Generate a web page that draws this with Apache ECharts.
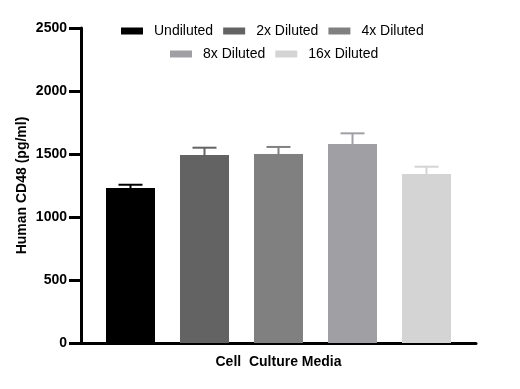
<!DOCTYPE html>
<html>
<head>
<meta charset="utf-8">
<script src="https://cdn.jsdelivr.net/npm/echarts@6/dist/echarts.min.js"></script>
<style>html,body{margin:0;padding:0;background:#fff}#c{width:520px;height:389px}</style>
</head>
<body>
<div id="c"></div>
<script>
var categories = ['Cell  Culture Media'];
var seriesNames = ['Undiluted', '2x Diluted', '4x Diluted', '8x Diluted', '16x Diluted'];
var means = [1230, 1492, 1500, 1579, 1341];
var errors = [26, 58, 56, 85, 58];
var colors = ['#000000', '#636363', '#808080', '#a0a0a4', '#d4d4d4'];
var yTicks = [0, 500, 1000, 1500, 2000, 2500];

var BAR_W = 49, BAR_GAP = 25;
var chart = echarts.init(document.getElementById('c'), null, {renderer: 'canvas'});
var series = [];
seriesNames.forEach(function (name, i) {
  series.push({
    name: name, type: 'bar', barWidth: BAR_W, barGap: (BAR_GAP / BAR_W * 100) + '%',
    itemStyle: {color: colors[i]}, data: [means[i]], z: 2
  });
});
seriesNames.forEach(function (name, i) {
  series.push({
    type: 'custom', z: 3, silent: true,
    data: [[0, means[i], errors[i]]],
    renderItem: function (params, api) {
      var top = api.coord([api.value(0), api.value(1) + api.value(2)]);
      var base = api.coord([api.value(0), api.value(1)]);
      var x = base[0] + (i - 2) * (BAR_W + BAR_GAP);
      var half = 12;
      var st = {stroke: colors[i], lineWidth: 2};
      return {type: 'group', children: [
        {type: 'line', shape: {x1: x, y1: base[1], x2: x, y2: top[1]}, style: st},
        {type: 'line', shape: {x1: x - half, y1: top[1], x2: x + half, y2: top[1]}, style: st}
      ]};
    }
  });
});

var legendText = {fontSize: 14, color: '#000', fontFamily: 'Liberation Sans', padding: [0, 0, 0, 6]};
chart.setOption({
  animation: false,
  backgroundColor: '#ffffff',
  textStyle: {fontFamily: 'Liberation Sans, Arial, sans-serif'},
  legend: [
    {data: seriesNames.slice(0, 3), left: 116, top: 19, itemWidth: 22, itemHeight: 7, itemGap: 10,
     textStyle: legendText, icon: 'rect'},
    {data: seriesNames.slice(3), left: 165, top: 42, itemWidth: 22, itemHeight: 7, itemGap: 10,
     textStyle: legendText, icon: 'rect'}
  ],
  grid: {left: 81, right: 44, top: 28, bottom: 46, containLabel: false},
  xAxis: {
    type: 'category', data: categories,
    axisLine: {lineStyle: {color: '#000', width: 3}},
    axisTick: {alignWithLabel: true, length: 8, lineStyle: {color: '#000', width: 3}},
    axisLabel: {fontSize: 14, fontWeight: 'bold', color: '#000', margin: 12, fontFamily: 'Liberation Sans'}
  },
  yAxis: {
    type: 'value', min: yTicks[0], max: yTicks[yTicks.length - 1], interval: 500,
    name: 'Human CD48 (pg/ml)', nameLocation: 'middle', nameGap: 52, nameRotate: 90,
    nameMoveOverlap: false,
    nameTextStyle: {fontSize: 14, fontWeight: 'bold', color: '#000', fontFamily: 'Liberation Sans'},
    axisLine: {show: true, lineStyle: {color: '#000', width: 3}},
    axisTick: {show: true, length: 12, lineStyle: {color: '#000', width: 3}},
    axisLabel: {fontSize: 14, fontWeight: 'bold', color: '#000', margin: 14, fontFamily: 'Liberation Sans',
      formatter: function (v) { return String(v); }},
    splitLine: {show: false}
  },
  series: series
});
</script>
</body>
</html>
